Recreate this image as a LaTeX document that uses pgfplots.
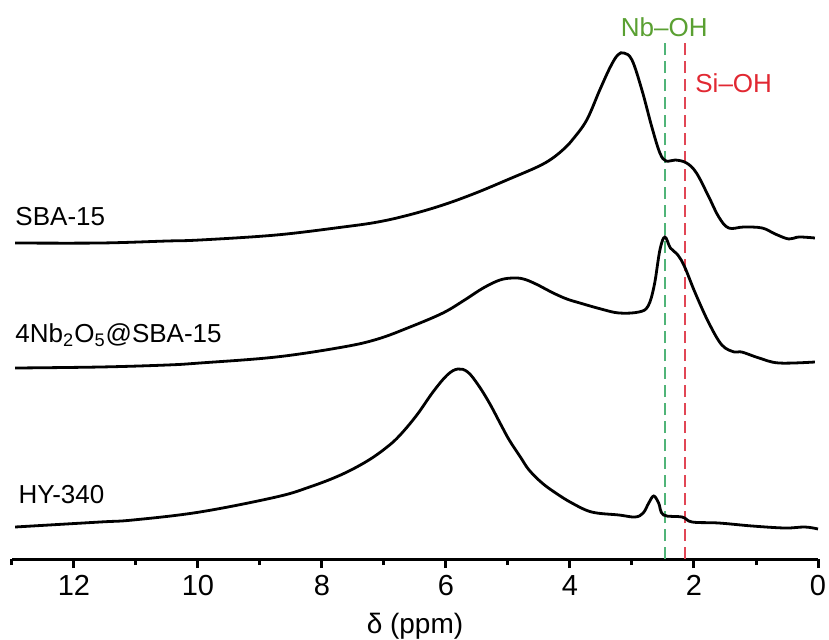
\documentclass[border=0pt]{standalone}
\usepackage{fontspec}
\setmainfont{Liberation Sans}
\usepackage{pgfplots}
\pgfplotsset{compat=1.18}
\definecolor{nbgreen}{RGB}{80,180,120}
\definecolor{nbtext}{RGB}{90,160,50}
\definecolor{sired}{RGB}{225,70,85}
\definecolor{sitext}{RGB}{225,40,50}
\begin{document}
\begin{tikzpicture}
\begin{axis}[
 scale only axis, width=403pt, height=279.5pt,
 xmin=0, xmax=13, ymin=0, ymax=559,
 x dir=reverse,
 axis x line*=bottom, axis y line=none,
 xtick={0,2,...,12}, minor xtick={1,3,...,13},
 tick align=outside,
 major tick length=4.5pt, minor tick length=3pt,
 every tick/.style={line width=1.5pt, black},
 x axis line style={line width=1.5pt, -},
 xticklabel style={font=\fontsize{14.5}{16}\selectfont},
 /pgf/number format/assume math mode=true,
 xlabel={δ (ppm)}, xlabel style={font=\fontsize{14}{16}\selectfont, yshift=-2pt},
 clip=false,
 spec/.style={black, line width=1.4pt, smooth, tension=0.6},
]
\coordinate (sw) at (rel axis cs:0,0);
\coordinate (ne) at (rel axis cs:1,1);
% dashed reference lines
\addplot[nbgreen, line width=1pt, dash pattern=on 6pt off 3pt] coordinates {(2.47,0) (2.47,519)};
\addplot[sired, line width=1pt, dash pattern=on 6pt off 3pt] coordinates {(2.14,0) (2.14,519)};
% SBA-15
\addplot[spec] coordinates {
(12.95,316) (11.58,316) (10.5,318) (9.97,319) (8.74,324) (7.66,332) (7.10,337) (6.60,344) (6.05,354)
(5.52,366) (4.98,380) (4.53,392) (4.30,400) (4.10,410) (3.95,420) (3.73,439) (3.52,469) (3.35,492) (3.23,504) (3.13,506)
(3.00,499) (2.84,469) (2.68,432) (2.55,406) (2.45,398) (2.30,399) (2.12,396) (1.96,386)
(1.76,362) (1.60,342) (1.44,331) (1.20,332) (0.90,331) (0.69,325) (0.47,320) (0.31,322) (0.05,321)};
% 4Nb2O5@SBA-15
\addplot[spec] coordinates {
(12.95,191) (11.58,192) (10.5,194) (9.97,196) (8.74,202) (7.66,212) (7.10,220) (6.58,232) (6.05,246)
(5.70,259) (5.40,271) (5.13,279) (4.92,281) (4.75,280) (4.55,275) (4.27,266) (4.05,260) (3.84,256) (3.50,250) (3.21,246)
(2.89,247) (2.74,253) (2.64,274) (2.55,309) (2.47,322) (2.38,311) (2.26,304) (2.15,292)
(1.98,266) (1.76,236) (1.55,214) (1.35,207) (1.23,207) (0.95,201) (0.63,196) (0.05,197)};
% HY-340
\addplot[spec] coordinates {
(12.95,32) (11.58,37) (11.05,39) (9.97,47) (8.74,62) (8.20,72) (7.70,84) (7.27,98) (6.95,112) (6.74,124)
(6.47,144) (6.21,167) (5.98,184) (5.81,190) (5.65,187) (5.48,174) (5.30,156) (5.12,135) (4.98,119) (4.80,102)
(4.66,89) (4.45,76) (4.23,66)
(3.97,56) (3.65,47) (3.21,44) (2.95,42) (2.82,46) (2.73,56) (2.65,63) (2.57,56) (2.49,44)
(2.19,42) (2.03,37) (1.60,36) (1.06,33) (0.53,31) (0.21,32) (0.0,30)};
\node[anchor=west, inner sep=0pt, font=\fontsize{13}{15}\selectfont] at (axis cs:12.95,342) {SBA-15};
\node[anchor=west, inner sep=0pt, font=\fontsize{13}{15}\selectfont] at (axis cs:12.95,224) {4Nb\textsubscript{2}O\textsubscript{5}@SBA-15};
\node[anchor=west, inner sep=0pt, font=\fontsize{13}{15}\selectfont] at (axis cs:12.90,64) {HY-340};
\node[font=\fontsize{13}{15}\selectfont, text=nbtext] at (axis cs:2.48,532) {Nb–OH};
\node[font=\fontsize{13}{15}\selectfont, text=sitext] at (axis cs:1.36,476) {Si–OH};
\end{axis}
\pgfresetboundingbox
\path[use as bounding box] ([shift={(-6pt,-40pt)}]sw) rectangle ([shift={(5.5pt,0pt)}]ne);
\end{tikzpicture}
\end{document}
